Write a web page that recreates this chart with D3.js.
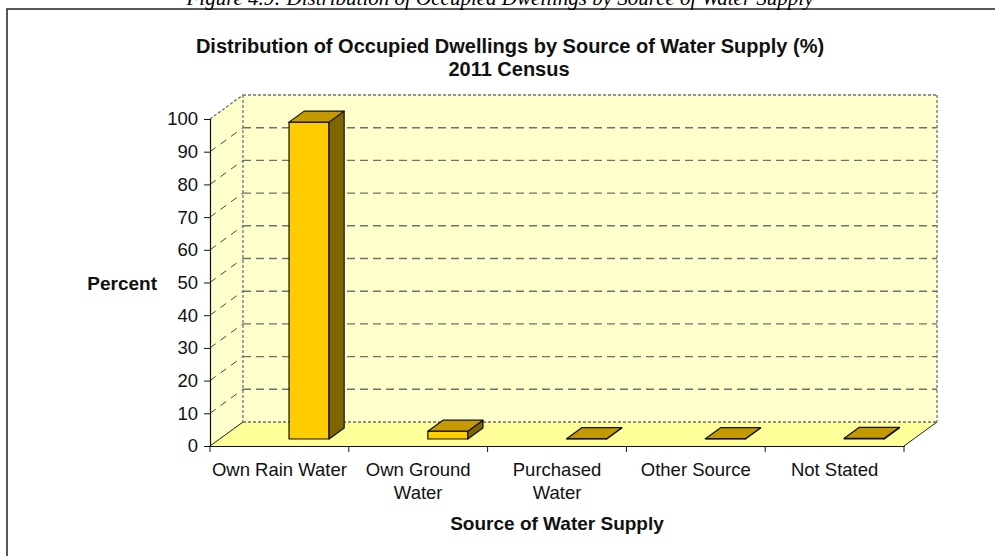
<!DOCTYPE html>
<html>
<head>
<meta charset="utf-8">
<script src="https://cdn.jsdelivr.net/npm/d3@7"></script>
<style>
  body { margin: 0; background: #fff; }
  text { font-family: Arial, "Liberation Sans", sans-serif; }
</style>
</head>
<body>
<div id="chart"></div>
<script>
const categories = ["Own Rain Water", "Own Ground Water", "Purchased Water", "Other Source", "Not Stated"];
const labelLines = [["Own Rain Water"], ["Own Ground", "Water"], ["Purchased", "Water"], ["Other Source"], ["Not Stated"]];
const values = [96.9, 2.4, 0.1, 0.1, 0.2];
const yTicks = [0, 10, 20, 30, 40, 50, 60, 70, 80, 90, 100];

const w = 995, h = 556;
const x0 = 210, x1 = 904;      // front floor edge
const yTop = 119, yBot = 446;  // front axis 100 -> 0
const DX = 33, DY = 24;        // depth of the box
const fFront = 7 / 24, fBack = 18 / 24; // bar position inside the depth

const svg = d3.select("#chart").append("svg")
  .attr("width", w).attr("height", h);

// outer frame
svg.append("rect")
  .attr("x", 7).attr("y", 9).attr("width", 1000).attr("height", 600)
  .attr("fill", "none").attr("stroke", "#222").attr("stroke-width", 1.5);

// cut-off caption above the frame
svg.append("text")
  .attr("x", 500).attr("y", 5)
  .attr("text-anchor", "middle")
  .style("font-family", "'Liberation Serif', 'Times New Roman', serif")
  .style("font-style", "italic")
  .style("font-size", "21px")
  .text("Figure 4.9: Distribution of Occupied Dwellings by Source of Water Supply");

const xScale = d3.scaleBand().domain(categories).range([x0, x1]);
const yScale = d3.scaleLinear().domain([0, 100]).range([yBot, yTop]);

const bw = 40;

// side wall
svg.append("polygon")
  .attr("points", [[x0, yBot], [x0, yTop], [x0 + DX, yTop - DY], [x0 + DX, yBot - DY]].join(" "))
  .attr("fill", "#FFFFCC");
// back wall
svg.append("polygon")
  .attr("points", [[x0 + DX, yTop - DY], [x1 + DX, yTop - DY], [x1 + DX, yBot - DY], [x0 + DX, yBot - DY]].join(" "))
  .attr("fill", "#FFFFCC");
// floor
svg.append("polygon")
  .attr("points", [[x0, yBot], [x1, yBot], [x1 + DX, yBot - DY], [x0 + DX, yBot - DY]].join(" "))
  .attr("fill", "#FFFF99");

// grid lines
const grid = svg.append("g");
yTicks.filter(d => d > 0 && d < 100).forEach(d => {
  const y = yScale(d);
  grid.append("line")
    .attr("x1", x0 + DX).attr("x2", x1 + DX).attr("y1", y - DY).attr("y2", y - DY)
    .attr("stroke", "#707070").attr("stroke-width", 1.4).attr("stroke-dasharray", "8,5");
  grid.append("line")
    .attr("x1", x0).attr("x2", x0 + DX).attr("y1", y).attr("y2", y - DY)
    .attr("stroke", "#444").attr("stroke-width", 1).attr("stroke-dasharray", "7,6");
});

// box edges (dotted)
const dotted = [
  [[x0, yTop], [x0 + DX, yTop - DY]],
  [[x0 + DX, yTop - DY], [x1 + DX, yTop - DY]],
  [[x1 + DX, yTop - DY], [x1 + DX, yBot - DY]],
  [[x0 + DX, yTop - DY], [x0 + DX, yBot - DY]],
  [[x0 + DX, yBot - DY], [x1 + DX, yBot - DY]]
];
dotted.forEach(p => {
  svg.append("line")
    .attr("x1", p[0][0]).attr("y1", p[0][1]).attr("x2", p[1][0]).attr("y2", p[1][1])
    .attr("stroke", "#707070").attr("stroke-width", 1.3).attr("stroke-dasharray", "3,2");
});
// floor edges (solid)
[[[x0, yBot], [x0 + DX, yBot - DY]], [[x1, yBot], [x1 + DX, yBot - DY]]].forEach(p => {
  svg.append("line")
    .attr("x1", p[0][0]).attr("y1", p[0][1]).attr("x2", p[1][0]).attr("y2", p[1][1])
    .attr("stroke", "#222").attr("stroke-width", 1);
});

// bars
const fdx = DX * fFront, fdy = DY * fFront;
const bdx = DX * (fBack - fFront), bdy = DY * (fBack - fFront);
const bars = svg.append("g");
categories.forEach((c, i) => {
  const left = xScale(c) + xScale.bandwidth() / 2 + fdx;
  const right = left + bw;
  const yb = yScale(0) - fdy;
  const yt = yScale(values[i]) - fdy;
  // front
  bars.append("polygon")
    .attr("points", [[left, yb], [right, yb], [right, yt], [left, yt]].join(" "))
    .attr("fill", "#FFCC00").attr("stroke", "#111").attr("stroke-width", 1.2)
    .attr("stroke-linejoin", "round");
  // side
  bars.append("polygon")
    .attr("points", [[right, yb], [right + bdx, yb - bdy], [right + bdx, yt - bdy], [right, yt]].join(" "))
    .attr("fill", "#806600").attr("stroke", "#111").attr("stroke-width", 1.2)
    .attr("stroke-linejoin", "round");
  // top
  bars.append("polygon")
    .attr("points", [[left, yt], [right, yt], [right + bdx, yt - bdy], [left + bdx, yt - bdy]].join(" "))
    .attr("fill", "#C49A00").attr("stroke", "#111").attr("stroke-width", 1.2)
    .attr("stroke-linejoin", "round");
});

// y axis
const yAxis = d3.axisLeft(yScale).tickValues(yTicks).tickSize(6).tickPadding(6);
const gy = svg.append("g").attr("transform", "translate(" + x0 + ",0)").call(yAxis);
gy.select(".domain").attr("stroke", "#111").attr("stroke-width", 1.2);
gy.selectAll(".tick line").attr("stroke", "#111");
gy.selectAll(".tick text").style("font-size", "18.5px").attr("fill", "#111")
  .style("font-family", "Arial, 'Liberation Sans', sans-serif");

// x axis
const xAxis = d3.axisBottom(xScale).tickSize(0).tickFormat("");
const gx = svg.append("g").attr("transform", "translate(0," + yBot + ")").call(xAxis);
gx.select(".domain").attr("stroke", "#111").attr("stroke-width", 1.2);
const bounds = [x0].concat(categories.map(c => xScale(c) + xScale.bandwidth()));
bounds.forEach(bx => {
  svg.append("line").attr("x1", bx).attr("x2", bx).attr("y1", yBot).attr("y2", yBot + 6)
    .attr("stroke", "#111");
});
categories.forEach((c, i) => {
  const t = svg.append("text")
    .attr("x", xScale(c) + xScale.bandwidth() / 2)
    .attr("y", 476)
    .attr("text-anchor", "middle")
    .style("font-size", "18.5px").attr("fill", "#111");
  labelLines[i].forEach((l, j) => {
    t.append("tspan").attr("x", xScale(c) + xScale.bandwidth() / 2)
      .attr("dy", j === 0 ? 0 : 23).text(l);
  });
});

// titles
svg.append("text").attr("x", 510).attr("y", 53).attr("text-anchor", "middle")
  .style("font-size", "20px").style("font-weight", "bold").attr("fill", "#111")
  .text("Distribution of Occupied Dwellings by Source of Water Supply (%)");
svg.append("text").attr("x", 509).attr("y", 76).attr("text-anchor", "middle")
  .style("font-size", "20px").style("font-weight", "bold").attr("fill", "#111")
  .text("2011 Census");
svg.append("text").attr("x", 157).attr("y", 290).attr("text-anchor", "end")
  .style("font-size", "19px").style("font-weight", "bold").attr("fill", "#111")
  .text("Percent");
svg.append("text").attr("x", (x0 + x1) / 2).attr("y", 530).attr("text-anchor", "middle")
  .style("font-size", "19px").style("font-weight", "bold").attr("fill", "#111")
  .text("Source of Water Supply");
</script>
</body>
</html>
